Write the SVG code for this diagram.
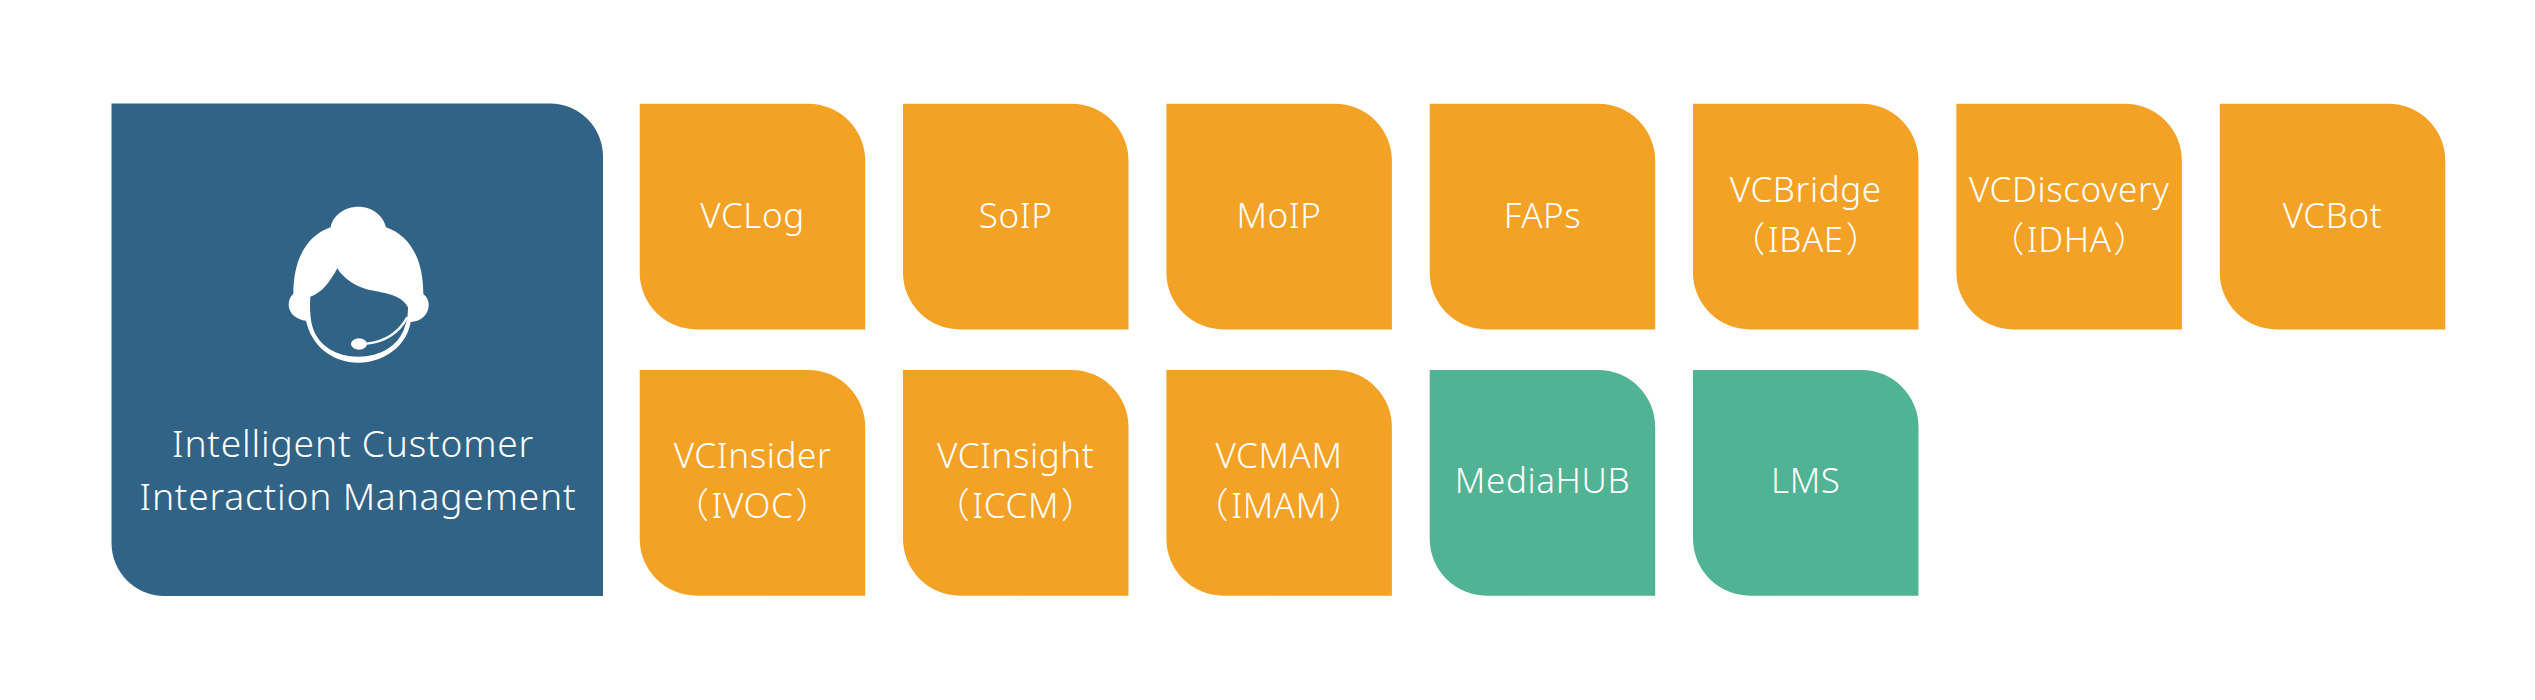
<svg xmlns="http://www.w3.org/2000/svg" width="2535" height="700" viewBox="0 0 2535 700">
<style>
text{font-family:"Noto Sans","Noto Sans CJK SC",sans-serif;font-weight:300;fill:#fff;text-anchor:middle;font-size:35px;letter-spacing:.6px}
.big{font-size:37.200px;letter-spacing:.8px}
.o{fill:#f4a225}.g{fill:#50b394}.b{fill:#316387}
</style>
<defs>
<path id="tile" d="M0 0H168.500A57 57 0 0 1 225.500 57V225.700H57A57 57 0 0 1 0 168.700Z"/>
</defs>
<rect width="2535" height="700" fill="#fff"/>
<g id="connectors"/>
<g id="main">
<path class="b" d="M111.500 103.500H550A53 53 0 0 1 603 156.500V596H164.500A53 53 0 0 1 111.500 543Z"/>
<g transform="translate(260 200) scale(.33333)" fill="#fff">
<path fill-rule="evenodd" d="M212 82C218 45 255 20 295 20C335 20 370 45 378 82C445 105 490 170 490 282C502 290 507 305 506 318C505 345 480 365 452 366C440 440 370 488 295 488C220 488 155 440 138 362C110 360 86 340 86 315C86 300 92 288 100 282C100 170 145 105 212 82ZM232 205C210 245 185 280 151 290C149 320 150 350 156 375C172 438 230 470 295 470C360 470 418 438 435 378C441 365 444 345 444 322C420 280 370 280 320 268C285 258 250 235 232 205Z"/>
<path d="M442 352C415 400 375 425 320 431" fill="none" stroke="#fff" stroke-width="7"/>
<ellipse cx="297" cy="432" rx="24" ry="17"/>
</g>
<text class="big" x="353" y="457">Intelligent Customer</text>
<text class="big" x="358" y="510">Interaction Management</text>
</g>
<g id="vclog"><use href="#tile" class="o" x="639.700" y="103.700"/><text x="752.500" y="228">VCLog</text></g>
<g id="soip"><use href="#tile" class="o" x="903" y="103.700"/><text x="1015.700" y="228">SoIP</text></g>
<g id="moip"><use href="#tile" class="o" x="1166.400" y="103.700"/><text x="1279" y="228">MoIP</text></g>
<g id="faps"><use href="#tile" class="o" x="1429.700" y="103.700"/><text x="1542.500" y="228">FAPs</text></g>
<g id="vcbridge"><use href="#tile" class="o" x="1693" y="103.700"/><text x="1805.800" y="202">VCBridge</text><text x="1805.800" y="252">（<tspan dx="2">IBAE</tspan><tspan dx="2">）</tspan></text></g>
<g id="vcdiscovery"><use href="#tile" class="o" x="1956.400" y="103.700"/><text x="2069.200" y="202">VCDiscovery</text><text x="2069.200" y="252">（<tspan dx="2">IDHA</tspan><tspan dx="2">）</tspan></text></g>
<g id="vcbot"><use href="#tile" class="o" x="2219.800" y="103.700"/><text x="2332.500" y="228">VCBot</text></g>
<g id="vcinsider"><use href="#tile" class="o" x="639.700" y="370"/><text x="752.500" y="468">VCInsider</text><text x="752.500" y="518">（<tspan dx="2">IVOC</tspan><tspan dx="2">）</tspan></text></g>
<g id="vcinsight"><use href="#tile" class="o" x="903" y="370"/><text x="1015.700" y="468">VCInsight</text><text x="1015.700" y="518">（<tspan dx="2">ICCM</tspan><tspan dx="2">）</tspan></text></g>
<g id="vcmam"><use href="#tile" class="o" x="1166.400" y="370"/><text x="1279" y="468">VCMAM</text><text x="1279" y="518">（<tspan dx="2">IMAM</tspan><tspan dx="2">）</tspan></text></g>
<g id="mediahub"><use href="#tile" class="g" x="1429.700" y="370"/><text x="1542.500" y="493">MediaHUB</text></g>
<g id="lms"><use href="#tile" class="g" x="1693" y="370"/><text x="1805.800" y="493">LMS</text></g>
</svg>
